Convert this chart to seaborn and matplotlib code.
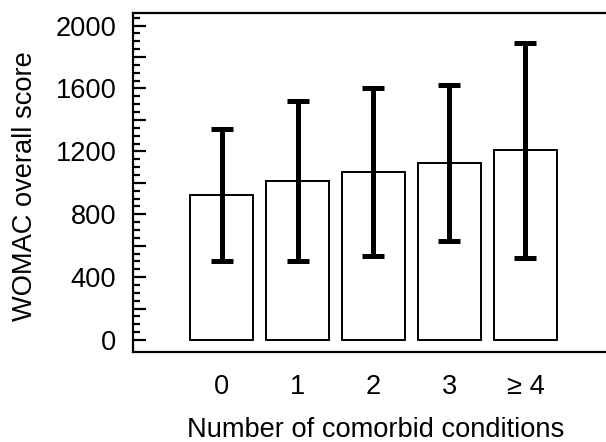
import matplotlib
matplotlib.use("Agg")
import matplotlib.pyplot as plt
import seaborn as sns
import numpy as np
import pandas as pd
from matplotlib.ticker import FixedLocator, FuncFormatter

categories = ["0", "1", "2", "3", "\u2265 4"]
mean_scores = [921, 1010, 1070, 1126, 1206]
sd_scores = [420, 510, 535, 498, 684]
y_ticks_labeled = [0, 400, 800, 1200, 1600, 2000]

sns.set_style("ticks")
plt.rcParams["font.family"] = ["Liberation Sans", "DejaVu Sans"]

FS = 19.6

df = pd.DataFrame({"cond": categories, "score": mean_scores})

fig = plt.figure(figsize=(6.06, 4.42), dpi=100)
ax = fig.add_axes([133 / 606, 1 - 352 / 442, 1 - 133 / 606, (352 - 13) / 442])

sns.barplot(data=df, x="cond", y="score", order=categories, errorbar=None,
            width=0.83, color="white", edgecolor="black", linewidth=1.4, ax=ax)
for p in ax.patches:
    p.set_facecolor("white")

ax.errorbar(np.arange(len(categories)), mean_scores, yerr=sd_scores, fmt="none",
            ecolor="black", elinewidth=3.6, capsize=8.2, capthick=3.6)

ax.set_xlim(-1.165, 5.06)
ax.set_ylim(-76, 2080)

major_locs = list(range(0, 2001, 200))
minor_locs = [v for v in range(0, 2051, 50) if v % 200 != 0]
ax.yaxis.set_major_locator(FixedLocator(major_locs))
ax.yaxis.set_minor_locator(FixedLocator(minor_locs))
ax.yaxis.set_major_formatter(FuncFormatter(lambda v, pos: f"{int(round(v))}" if int(round(v)) in y_ticks_labeled else ""))
ax.tick_params(axis="y", which="major", direction="in", length=9, width=1.6,
               labelsize=FS, pad=12, left=True, color="black")
ax.tick_params(axis="y", which="minor", direction="in", length=5, width=1.6,
               left=True, color="black")
ax.tick_params(axis="x", which="both", length=0, labelsize=FS, pad=16, bottom=False)

for side in ["left", "bottom", "top"]:
    ax.spines[side].set_linewidth(1.6)
    ax.spines[side].set_color("black")
ax.spines["right"].set_visible(False)

ax.set_ylabel("WOMAC overall score", fontsize=FS, color="black")
ax.set_xlabel("Number of comorbid conditions", fontsize=FS, color="black")
ax.yaxis.set_label_coords((25 - 133) / 473, (352 - 186) / 339)
ax.xaxis.set_label_coords(0.513, (352 - 437) / 339)
ax.xaxis.label.set_verticalalignment("baseline")
ax.yaxis.label.set_verticalalignment("center")
for t in ax.get_xticklabels() + ax.get_yticklabels():
    t.set_color("black")

fig.savefig("out.png", dpi=100)
